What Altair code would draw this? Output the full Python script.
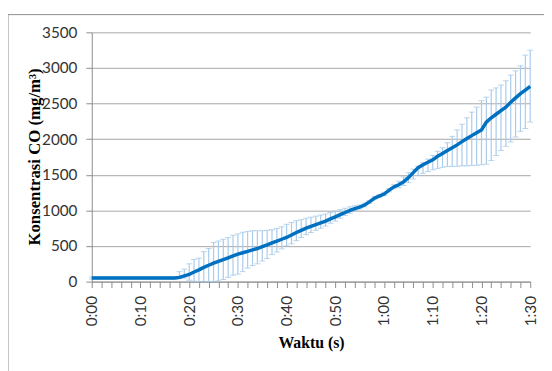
import altair as alt
import pandas as pd

seconds = list(range(0, 91))

mean_co = [50] * 18 + [
    60, 80, 100, 135, 165, 200, 230, 260, 285, 310, 335, 360,
    385, 405, 425, 445, 465, 490, 515, 545, 570, 595,
    620, 655, 690, 720, 750, 775, 800, 825, 850, 880,
    910, 940, 970, 1000, 1025, 1045, 1075, 1120, 1170, 1200,
    1230, 1280, 1330, 1360, 1400, 1460, 1530, 1600, 1640, 1675,
    1710, 1760, 1800, 1840, 1880, 1920, 1965, 2010, 2050, 2090,
    2130, 2240, 2300, 2350, 2400, 2450, 2520, 2580, 2640, 2690, 2740]

upper_co = [65] * 18 + [
    140, 175, 250, 310, 330, 420, 465, 550, 570, 595, 620, 650,
    670, 693, 705, 715, 715, 715, 720, 730, 748, 770,
    805, 830, 855, 870, 890, 905, 920, 935, 950, 970,
    990, 1010, 1030, 1050, 1065, 1075, 1100, 1140, 1190, 1220,
    1255, 1305, 1360, 1410, 1470, 1530, 1580, 1620, 1670, 1720,
    1770, 1830, 1880, 1950, 2040, 2130, 2210, 2300, 2380, 2450,
    2540, 2590, 2690, 2720, 2760, 2820, 2900, 2960, 3030, 3180, 3250]

lower_co = [35] * 18 + [
    40, 50, 20, 5, 0, 0, 0, 0, 10, 30, 60, 90,
    105, 140, 190, 225, 250, 290, 325, 380, 415, 460,
    500, 530, 575, 620, 660, 690, 720, 750, 780, 820,
    850, 890, 930, 960, 995, 1020, 1050, 1100, 1150, 1185,
    1210, 1260, 1305, 1320, 1350, 1390, 1440, 1490, 1520, 1545,
    1570, 1590, 1605, 1615, 1620, 1620, 1625, 1625, 1630, 1635,
    1640, 1650, 1700, 1770, 1840, 1900, 1960, 2030, 2110, 2150, 2240]

tick_labels = ["0:00", "0:10", "0:20", "0:30", "0:40", "0:50",
               "1:00", "1:10", "1:20", "1:30"]
y_ticks = [0, 500, 1000, 1500, 2000, 2500, 3000, 3500]

df = pd.DataFrame({"t": seconds, "mean": mean_co, "hi": upper_co, "lo": lower_co})

label_array = "[" + ",".join("'" + s + "'" for s in tick_labels) + "]"
label_expr = f"datum.value % 10 == 0 ? {label_array}[datum.value / 10] : ''"

x_axis = alt.Axis(
    values=list(range(0, 91, 2)), labelExpr=label_expr, labelAngle=270,
    labelAlign="right", labelBaseline="middle", labelPadding=8,
    labelFont="Lato", labelFontSize=15.5, labelColor="#333333",
    tickSize=6, tickColor="#8c8c8c", domainColor="#8c8c8c",
    grid=False, labelOverlap=False, labelFlush=False, labelBound=False,
    title="Waktu (s)", titleFont="Liberation Serif", titleFontSize=16,
    titleFontWeight="bold", titleColor="#000000", titleY=62,
    titleBaseline="middle")

y_axis = alt.Axis(
    values=y_ticks, format="d", labelFont="Lato", labelFontSize=15.5,
    labelColor="#333333", labelPadding=9, tickSize=6, tickColor="#8c8c8c",
    domainColor="#8c8c8c", gridColor="#a6a6a6", gridWidth=1,
    labelOverlap=False,
    title="Konsentrasi  CO (mg/m³)", titleFont="Liberation Serif",
    titleFontSize=17, titleFontWeight="bold", titleColor="#000000",
    titleX=-58, titleY=126, titleAngle=270, titleAlign="center",
    titleBaseline="middle")

x_scale = alt.Scale(domain=[0, 90], nice=False)
y_scale = alt.Scale(domain=[0, 3500], nice=False)

def xe():
    return alt.X("t:Q", scale=x_scale, axis=x_axis)

def ye(field):
    return alt.Y(field + ":Q", scale=y_scale, axis=y_axis)

base = alt.Chart(df)

err_rule = base.mark_rule(color="#a9cbec", strokeWidth=1.2).encode(
    x=xe(), y=ye("hi"), y2="lo:Q")
cap_hi = base.mark_tick(color="#9dc3e6", orient="horizontal", size=6,
                        thickness=1).encode(x=xe(), y=ye("hi"))
cap_lo = base.mark_tick(color="#9dc3e6", orient="horizontal", size=6,
                        thickness=1).encode(x=xe(), y=ye("lo"))

line = base.mark_line(color="#0070c0", strokeWidth=3.5).encode(
    x=xe(), y=ye("mean"))

frame_data = alt.Data(values=[{}])
frame_top = alt.Chart(frame_data).mark_rule(color="#8c8c8c", strokeWidth=1).encode(
    x=alt.value(-85), x2=alt.value(470), y=alt.value(-18))
frame_left = alt.Chart(frame_data).mark_rule(color="#8c8c8c", strokeWidth=1).encode(
    x=alt.value(-85), y=alt.value(-18), y2=alt.value(360))

chart = alt.layer(err_rule, cap_hi, cap_lo, line, frame_top, frame_left).properties(
    width=445, height=253,
    autosize=alt.AutoSizeParams(type="none"),
    padding={"left": 85, "top": 22, "right": 14, "bottom": 88},
    background="#ffffff",
).configure_view(stroke=None)

chart.save("out.html", embed_options={"renderer": "svg", "actions": False})
